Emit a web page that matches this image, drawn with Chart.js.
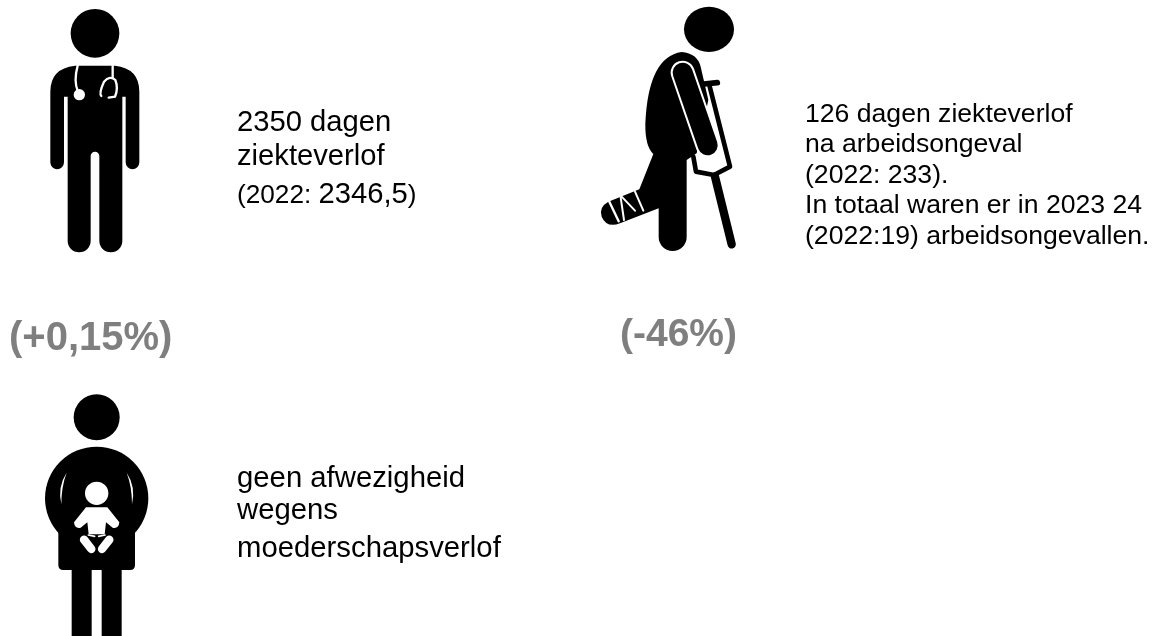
<!DOCTYPE html>
<html><head><meta charset="utf-8">
<style>html,body{margin:0;padding:0;background:#fff}#w{width:1160px;height:636px;position:relative}canvas{display:block}</style>
<script src="https://cdn.jsdelivr.net/npm/chart.js@4"></script>
</head><body><div id="w"><canvas id="c" width="1160" height="636"></canvas></div>
<script>
// Data
const categories = ['ziekteverlof', 'arbeidsongeval', 'moederschapsverlof'];
const columnIndex = [0, 1, 0];
const rowIndex = [0, 0, 1];
const days2023 = [2350, 126, 0];
const days2022 = ['2346,5', '233', null];
const changeLabels = ['(+0,15%)', '(-46%)', null];
const doctorLines = [['2350 dagen'], ['ziekteverlof'], ['(2022: ', '2346,5', ')']];
const accidentLines = ['126 dagen ziekteverlof', 'na arbeidsongeval', '(2022: 233).', 'In totaal waren er in 2023 24', '(2022:19) arbeidsongevallen.'];
const maternityLines = ['geen afwezigheid', 'wegens', 'moederschapsverlof'];

function icon(w, h, draw) {
  const cv = document.createElement('canvas');
  cv.width = w; cv.height = h;
  const g = cv.getContext('2d');
  g.filter = 'blur(0.4px)';
  g.scale(1 / 3, 1 / 3);
  g.lineCap = 'round'; g.lineJoin = 'round';
  draw(g);
  return cv;
}
const K = '#000', W = '#fff';
function line(g, pts, width, color) {
  g.beginPath(); g.moveTo(pts[0][0], pts[0][1]);
  for (let i = 1; i < pts.length; i++) g.lineTo(pts[i][0], pts[i][1]);
  g.lineWidth = width; g.strokeStyle = color; g.stroke();
}
function disc(g, x, y, rx, ry, color) {
  g.beginPath(); g.ellipse(x, y, rx, ry, 0, 0, Math.PI * 2); g.fillStyle = color; g.fill();
}
const doctorIcon = icon(240, 270, g => {
  disc(g, 285, 100, 73, 73, K);
  g.fillStyle = K;
  g.beginPath();
  g.moveTo(225, 197); g.lineTo(345, 197);
  g.quadraticCurveTo(418, 205, 418, 275);
  g.lineTo(418, 485); g.arcTo(418, 508, 398, 508, 21); g.arcTo(377, 508, 377, 485, 21);
  g.lineTo(377, 290); g.lineTo(367, 290);
  g.lineTo(367, 725); g.arcTo(367, 757, 333, 757, 34); g.arcTo(298, 757, 298, 725, 34);
  g.lineTo(298, 470); g.arcTo(298, 455, 285, 455, 13); g.arcTo(272, 455, 272, 470, 13);
  g.lineTo(272, 725); g.arcTo(272, 757, 238, 757, 34); g.arcTo(203, 757, 203, 725, 34);
  g.lineTo(203, 290); g.lineTo(192, 290);
  g.lineTo(192, 485); g.arcTo(192, 508, 172, 508, 21); g.arcTo(151, 508, 151, 485, 21);
  g.lineTo(151, 275);
  g.quadraticCurveTo(151, 205, 225, 197);
  g.closePath(); g.fill();
  // stethoscope
  g.strokeStyle = W; g.lineWidth = 7;
  g.beginPath(); g.moveTo(233, 197); g.quadraticCurveTo(220, 245, 234, 275); g.stroke();
  disc(g, 238, 284, 17, 17, W);
  g.beginPath(); g.moveTo(338, 197); g.lineTo(338, 232); g.stroke();
  g.beginPath(); g.moveTo(304, 288); g.quadraticCurveTo(296, 280, 312, 245);
  g.quadraticCurveTo(330, 225, 346, 240); g.quadraticCurveTo(356, 265, 345, 290); g.lineTo(326, 293); g.stroke();
});
const accidentIcon = icon(190, 270, g => {
  disc(g, 387, 88, 75, 68, K);
  // crutch
  line(g, [[372, 252], [412, 248]], 17, K);
  line(g, [[388, 255], [450, 500], [402, 525], [348, 515], [340, 470]], 14, K);
  line(g, [[405, 530], [455, 733]], 25, K);
  // body
  g.fillStyle = K;
  g.beginPath();
  g.moveTo(305, 156);
  g.quadraticCurveTo(352, 160, 362, 200);
  g.lineTo(385, 300); g.lineTo(350, 460); g.lineTo(320, 480);
  g.lineTo(320, 715); g.arcTo(320, 753, 278, 753, 42); g.arcTo(236, 753, 236, 715, 42);
  g.lineTo(236, 625); g.lineTo(120, 670);
  g.quadraticCurveTo(80, 685, 65, 650);
  g.quadraticCurveTo(55, 622, 85, 605);
  g.lineTo(178, 568); g.lineTo(220, 462);
  g.quadraticCurveTo(195, 440, 196, 370);
  g.quadraticCurveTo(205, 170, 305, 156);
  g.closePath(); g.fill();
  // arm with white outline
  line(g, [[308, 218], [383, 436]], 72, W);
  line(g, [[308, 218], [383, 436]], 60, K);
  // cast stripes
  line(g, [[88, 605], [116, 664]], 7, W);
  line(g, [[122, 592], [132, 660]], 6, W);
  line(g, [[125, 590], [165, 632]], 6, W);
  line(g, [[165, 575], [190, 632]], 6, W);
});
const maternityIcon = icon(240, 252, g => {
  g.translate(60, 0);
  disc(g, 230, 97, 69, 69, K);
  disc(g, 230, 340, 155, 155, K);
  g.fillStyle = K;
  g.beginPath();
  g.moveTo(115, 380); g.lineTo(345, 380); g.lineTo(345, 540);
  g.quadraticCurveTo(345, 555, 330, 555); g.lineTo(130, 555);
  g.quadraticCurveTo(115, 555, 115, 540); g.closePath(); g.fill();
  g.fillRect(155, 550, 60, 210);
  g.fillRect(245, 550, 60, 210);
  // arm lines
  g.fillStyle = W;
  g.beginPath(); g.moveTo(140, 263); g.quadraticCurveTo(112, 305, 124, 358); g.quadraticCurveTo(124, 305, 140, 263); g.fill();
  g.beginPath(); g.moveTo(320, 263); g.quadraticCurveTo(348, 305, 336, 358); g.quadraticCurveTo(336, 305, 320, 263); g.fill();
  // baby
  disc(g, 230, 325, 35, 35, W);
  g.beginPath();
  g.moveTo(198, 367); g.lineTo(262, 367); g.lineTo(298, 412);
  g.quadraticCurveTo(296, 432, 278, 428); g.lineTo(258, 412); g.lineTo(254, 448);
  g.lineTo(206, 448); g.lineTo(202, 412); g.lineTo(182, 428);
  g.quadraticCurveTo(164, 432, 162, 412); g.closePath(); g.fill();
  line(g, [[192, 464], [214, 492]], 25, W);
  line(g, [[268, 464], [246, 492]], 25, W);
  line(g, [[205, 450], [224, 454]], 5, W);
  line(g, [[255, 450], [236, 454]], 5, W);
});

const ink = '#000', gray = '#7f7f7f', FONT = '"Liberation Sans", Arial, sans-serif';
const infographicText = {
  id: 'infographicText',
  afterDatasetsDraw(chart) {
    const g = chart.ctx, pts = chart.getDatasetMeta(0).data;
    g.save();
    g.textBaseline = 'alphabetic'; g.textAlign = 'left';
    const at = (i, dx, dy) => [pts[i].x + dx, pts[i].y + dy];
    // doctor block
    const doctorDy = [-4, 30, 68];
    let [x, y] = at(0, 117, 0);
    g.fillStyle = ink;
    doctorLines.forEach((parts, n) => {
      let cx = x;
      parts.forEach((p, k) => {
        g.font = (n === 2 && k !== 1 ? 26.2 : 29.2) + 'px ' + FONT;
        g.fillText(p, cx, y + doctorDy[n]);
        cx += g.measureText(p).width;
      });
    });
    [x, y] = at(1, 130, -13);
    g.font = '26.6px ' + FONT;
    accidentLines.forEach((t, n) => g.fillText(t, x, y + n * 30.4));
    [x, y] = at(2, 117, 0);
    const maternityDy = [-24, 8, 46];
    g.font = '29.3px ' + FONT;
    maternityLines.forEach((t, n) => g.fillText(t, x, y + maternityDy[n]));
    // change labels
    g.fillStyle = gray; g.font = 'bold 40px ' + FONT;
    g.fillText(changeLabels[0], pts[0].x - 111, pts[0].y + 215);
    g.font = 'bold 39px ' + FONT;
    g.fillText(changeLabels[1], pts[1].x - 55, pts[1].y + 211);
    g.restore();
  }
};

new Chart(document.getElementById('c'), {
  type: 'scatter',
  data: {
    labels: categories,
    datasets: [{
      label: 'dagen ziekteverlof 2023',
      data: categories.map((c, i) => ({ x: columnIndex[i], y: rowIndex[i], days: days2023[i], prev: days2022[i] })),
      pointStyle: [doctorIcon, accidentIcon, maternityIcon],
      pointRadius: 10,
      clip: false
    }]
  },
  options: {
    responsive: false, animation: false,
    layout: { padding: 0, autoPadding: false },
    plugins: { legend: { display: false }, tooltip: { enabled: false }, title: { display: false } },
    events: [],
    scales: {
      x: { type: 'linear', display: false, min: -120 / 555, max: 1040 / 555 },
      y: { type: 'linear', display: false, reverse: true, min: -135 / 376, max: 501 / 376 }
    }
  },
  plugins: [infographicText]
});
</script></body></html>
